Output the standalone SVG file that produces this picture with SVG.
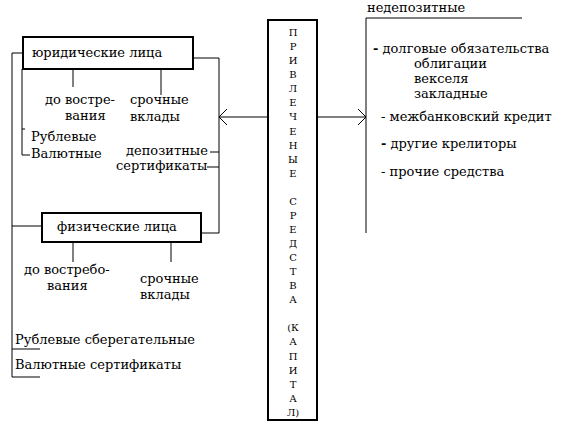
<svg xmlns="http://www.w3.org/2000/svg" width="563" height="445" viewBox="0 0 563 445">
<style>
text{font-family:"DejaVu Serif",serif;font-size:13px;fill:#000}
.v{font-size:10px;text-anchor:middle}
.ln{stroke:#000;stroke-width:1;fill:none}
.box{stroke:#000;stroke-width:2;fill:#fff}
</style>
<rect width="563" height="445" fill="#fff"/>
<g id="connectors">
<path class="ln" d="M268,117H219M227,109L219,117L227,125"/>
<path class="ln" d="M317,117H366M358,109L366,117L358,125"/>
<path class="ln" d="M366,233V18H522"/>
<path class="ln" d="M193,58H219V233H201"/>
<path class="ln" d="M210,152H219M207,167H219"/>
<path class="ln" d="M23,53H12V377H40M12,349H40M12,226H42"/>
<path class="ln" d="M22,69V155H30M22,129H25"/>
<path class="ln" d="M73,69V87M161,69V95"/>
<path class="ln" d="M73,242V262M171,242V262"/>
</g>
<g id="center">
<rect class="box" x="268" y="20" width="49" height="400"/>
<text class="v"><tspan x="293" y="36">П</tspan><tspan x="293" y="50">Р</tspan><tspan x="293" y="64">И</tspan><tspan x="293" y="78">В</tspan><tspan x="293" y="92">Л</tspan><tspan x="293" y="106">Е</tspan><tspan x="293" y="120">Ч</tspan><tspan x="293" y="135">Е</tspan><tspan x="293" y="149">Н</tspan><tspan x="293" y="163">Ы</tspan><tspan x="293" y="177">Е</tspan><tspan x="293" y="205">С</tspan><tspan x="293" y="219">Р</tspan><tspan x="293" y="233">Е</tspan><tspan x="293" y="247">Д</tspan><tspan x="293" y="261">С</tspan><tspan x="293" y="275">Т</tspan><tspan x="293" y="289">В</tspan><tspan x="293" y="303">А</tspan><tspan x="293" y="331">(К</tspan><tspan x="293" y="345">А</tspan><tspan x="293" y="360">П</tspan><tspan x="293" y="374">И</tspan><tspan x="293" y="388">Т</tspan><tspan x="293" y="402">А</tspan><tspan x="293" y="416">Л)</tspan></text>
</g>
<g id="legal">
<rect class="box" x="23" y="37" width="170" height="32"/>
<text x="32" y="57">юридические лица</text>
</g>
<g id="legal-items">
<text x="45" y="104">до востре-</text>
<text x="65" y="120">вания</text>
<text x="130" y="104">срочные</text>
<text x="130" y="121">вклады</text>
<text x="31" y="141">Рублевые</text>
<text x="31" y="158">Валютные</text>
<text x="126" y="155">депозитные</text>
<text x="116" y="170">сертификаты</text>
</g>
<g id="physical">
<rect class="box" x="42" y="213" width="159" height="29"/>
<text x="57" y="231">физические лица</text>
</g>
<g id="physical-items">
<text x="24" y="274">до востребо-</text>
<text x="47" y="290">вания</text>
<text x="140" y="283">срочные</text>
<text x="140" y="299">вклады</text>
<text x="15" y="344">Рублевые сберегательные</text>
<text x="15" y="369">Валютные сертификаты</text>
</g>
<g id="nondeposit">
<text x="367" y="12">недепозитные</text>
<text x="373" y="53"><tspan font-weight="bold">-</tspan> долговые обязательства</text>
<text x="414" y="68">облигации</text>
<text x="414" y="83">векселя</text>
<text x="414" y="98">закладные</text>
<text x="381" y="121">- межбанковский кредит</text>
<text x="381" y="148"><tspan font-weight="bold">-</tspan> другие крелиторы</text>
<text x="381" y="176">- прочие средства</text>
</g>
</svg>
